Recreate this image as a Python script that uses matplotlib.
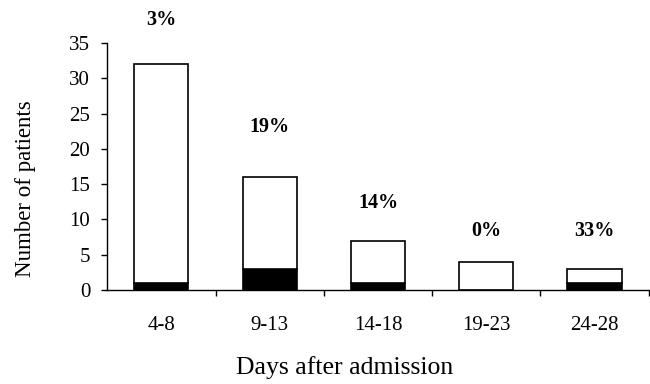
import matplotlib.pyplot as plt
import numpy as np

# Datos
groups = ['4-8', '9-13', '14-18', '19-23', '24-28']
total = np.array([32, 16, 7, 4, 3])
dark = np.array([1, 3, 1, 0, 1])
pct_labels = ['3%', '19%', '14%', '0%', '33%']
label_y = [38.2, 23.1, 12.3, 8.4, 8.4]

plt.rcParams['font.family'] = ['Liberation Serif', 'DejaVu Serif']

fig = plt.figure(figsize=(6.5, 3.84), dpi=100)
ax = fig.add_axes([0.165, 0.245, 0.833, 0.643])

x = np.arange(len(groups))
w = 0.5
ax.bar(x, dark, width=w, color='black', edgecolor='black', linewidth=1.2)
ax.bar(x, total - dark, bottom=dark, width=w, color='white',
       edgecolor='black', linewidth=1.2)

for xi, lab, yi in zip(x, pct_labels, label_y):
    ax.text(xi, yi, lab, ha='center', va='center', fontsize=14.5,
            fontweight='bold', clip_on=False)

ax.set_xlim(-0.5, len(groups) - 0.5)
ax.set_ylim(0, 35)
ax.set_yticks(range(0, 36, 5))
ax.set_xticks(x)
ax.set_xticklabels(groups)
ax.set_xticks(np.arange(len(groups)) + 0.5, minor=True)
ax.tick_params(axis='x', which='major', length=0, pad=19, labelsize=15)
ax.tick_params(axis='x', which='minor', length=4.3, direction='out', width=1)
ax.tick_params(axis='y', length=4.3, width=1, labelsize=15, pad=8)

for s in ['top', 'right']:
    ax.spines[s].set_visible(False)
ax.spines['left'].set_linewidth(1)
ax.spines['bottom'].set_linewidth(1)

ax.set_xlabel('Days after admission', fontsize=18.5, va='center')
ax.xaxis.set_label_coords(0.438, -0.316)
ax.set_ylabel('Number of patients', fontsize=16.5, va='center')
ax.yaxis.set_label_coords(-0.151, 0.41)

fig.savefig('out.png', dpi=100)
